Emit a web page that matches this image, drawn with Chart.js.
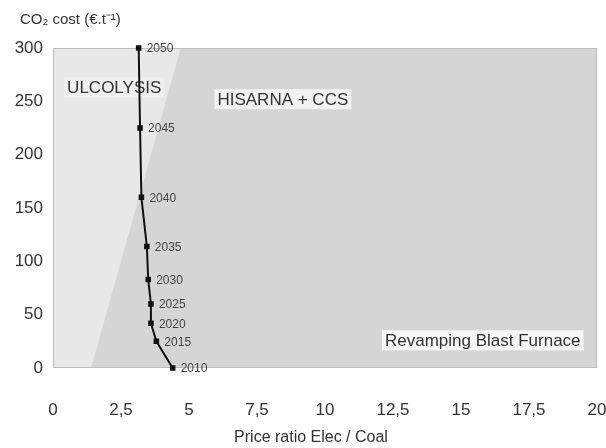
<!DOCTYPE html>
<html>
<head>
<meta charset="utf-8">
<script src="https://cdn.jsdelivr.net/npm/chart.js@4.4.1/dist/chart.umd.min.js"></script>
<style>
  html, body { margin: 0; padding: 0; background: #fff; }
  #wrap { width: 606px; height: 448px; }
</style>
</head>
<body>
<div id="wrap"><canvas id="chart-co2"></canvas></div>
<script>
// Data
const years = [2010, 2015, 2020, 2025, 2030, 2035, 2040, 2045, 2050];
const priceRatio = [4.4, 3.8, 3.6, 3.6, 3.5, 3.45, 3.25, 3.2, 3.15];
const co2Cost = [0, 25, 42, 60, 83, 114, 160, 225, 300];
const xTicks = [0, 2.5, 5, 7.5, 10, 12.5, 15, 17.5, 20];
const yTicks = [0, 50, 100, 150, 200, 250, 300];
// edge of the ULCOLYSIS zone (price ratio at CO2 cost 0 and 300)
const ulcolysisEdgeX = [1.4, 4.7];
const ulcolysisEdgeY = [0, 300];
const regionNames = ['ULCOLYSIS', 'HISARNA + CCS', 'Revamping Blast Furnace'];

const FONT = '"Liberation Sans", Arial, sans-serif';

const fmt = v => String(v).replace('.', ',');

const zonesPlugin = {
  id: 'zones',
  beforeDatasetsDraw(chart) {
    const { ctx, chartArea: a, scales: { x, y } } = chart;
    ctx.save();
    ctx.fillStyle = '#d5d5d5';
    ctx.fillRect(a.left, a.top, a.right - a.left, a.bottom - a.top);
    // lighter ulcolysis wedge
    ctx.fillStyle = '#e8e8e8';
    ctx.beginPath();
    ctx.moveTo(x.getPixelForValue(0), y.getPixelForValue(ulcolysisEdgeY[0]));
    ctx.lineTo(x.getPixelForValue(ulcolysisEdgeX[0]), y.getPixelForValue(ulcolysisEdgeY[0]));
    ctx.lineTo(x.getPixelForValue(ulcolysisEdgeX[1]), y.getPixelForValue(ulcolysisEdgeY[1]));
    ctx.lineTo(x.getPixelForValue(0), y.getPixelForValue(ulcolysisEdgeY[1]));
    ctx.closePath();
    ctx.fill();
    ctx.strokeStyle = '#bdbdbd';
    ctx.lineWidth = 1;
    ctx.strokeRect(a.left + 0.5, a.top + 0.5, a.right - a.left - 1, a.bottom - a.top - 1);

    // zone names with pale boxes (under the path line)
    const boxed = (txt, vx, vy, bg) => {
      ctx.font = '17px ' + FONT;
      const w = ctx.measureText(txt).width;
      const px = x.getPixelForValue(vx), py = y.getPixelForValue(vy);
      ctx.fillStyle = bg;
      ctx.fillRect(px - w / 2 - 3, py - 10, w + 6, 20);
      ctx.fillStyle = '#333';
      ctx.textAlign = 'center';
      ctx.textBaseline = 'middle';
      ctx.fillText(txt, px, py + 1);
    };
    boxed(regionNames[0], 2.25, 263, '#efefef');
    boxed(regionNames[1], 8.45, 252, '#f2f2f2');
    boxed(regionNames[2], 15.8, 26, '#f6f6f6');
    ctx.restore();
  },
  afterDatasetsDraw(chart) {
    const { ctx } = chart;
    ctx.save();
    // year labels next to each point
    const pts = chart.getDatasetMeta(0).data;
    ctx.font = '12px ' + FONT;
    ctx.fillStyle = '#444';
    ctx.textBaseline = 'middle';
    ctx.textAlign = 'left';
    pts.forEach((p, i) => ctx.fillText(String(years[i]), p.x + 8, p.y + 1));
    ctx.restore();
  },
  afterDraw(chart) {
    const { ctx } = chart;
    ctx.save();
    ctx.fillStyle = '#333';
    ctx.font = '15px ' + FONT;
    ctx.textBaseline = 'alphabetic';
    ctx.textAlign = 'left';
    ctx.fillText('CO₂ cost (€.t⁻¹)', 20, 24);
    ctx.font = '16px ' + FONT;
    ctx.textAlign = 'center';
    ctx.fillText('Price ratio Elec / Coal', 311, 442);
    ctx.restore();
  }
};

new Chart(document.getElementById('chart-co2'), {
  type: 'scatter',
  data: {
    datasets: [{
      label: 'CO2 cost path',
      data: priceRatio.map((v, i) => ({ x: v, y: co2Cost[i] })),
      showLine: true,
      borderColor: '#111',
      backgroundColor: '#111',
      borderWidth: 2,
      pointStyle: 'rect',
      pointRadius: 2.5,
      tension: 0
    }]
  },
  options: {
    responsive: true,
    maintainAspectRatio: false,
    animation: false,
    clip: false,
    layout: { padding: { left: 0, right: 9, top: 48, bottom: 0 } },
    plugins: { legend: { display: false }, tooltip: { enabled: false } },
    scales: {
      x: {
        type: 'linear',
        min: 0, max: 20,
        afterBuildTicks: s => { s.ticks = xTicks.map(v => ({ value: v })); },
        afterFit: s => { s.height = 80; s.paddingLeft = 0; s.paddingRight = 0; },
        grid: { display: false },
        border: { display: false },
        ticks: { padding: 24, color: '#333', font: { family: FONT, size: 17 }, callback: v => fmt(v) }
      },
      y: {
        type: 'linear',
        min: 0, max: 300,
        afterBuildTicks: s => { s.ticks = yTicks.map(v => ({ value: v })); },
        afterFit: s => { s.width = 53; s.paddingTop = 0; s.paddingBottom = 0; },
        grid: { display: false },
        border: { display: false },
        ticks: { padding: 2, color: '#333', font: { family: FONT, size: 17 }, callback: v => fmt(v) }
      }
    }
  },
  plugins: [zonesPlugin]
});
</script>
</body>
</html>
